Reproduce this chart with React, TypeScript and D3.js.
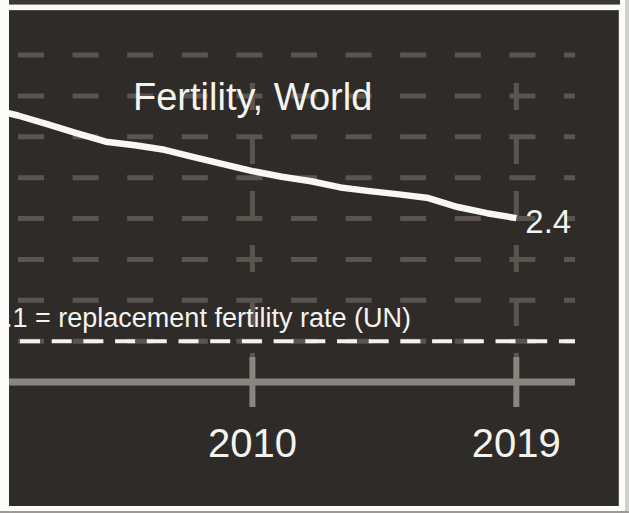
import React from "react";
import * as d3 from "d3";

const years = [2001, 2002, 2003, 2004, 2005, 2006, 2007, 2008, 2009, 2010, 2011, 2012, 2013, 2014, 2015, 2016, 2017, 2018, 2019];
const fertility = [2.67, 2.652, 2.631, 2.609, 2.588, 2.579, 2.568, 2.55, 2.533, 2.516, 2.502, 2.491, 2.476, 2.467, 2.459, 2.45, 2.428, 2.413, 2.401];
const gridValues = [2.1, 2.2, 2.3, 2.4, 2.5, 2.6, 2.7, 2.8];
const xTicks = [2010, 2019];
const replacementRate = 2.1;
const title = "Fertility, World";
const replacementLabel = "2.1 = replacement fertility rate (UN)";
const lastLabel = "2.4";

const W = 629;
const H = 513;
const panel = { x: 9, y: 10, w: 610, h: 496 };

export default function App() {
  const x = d3.scaleLinear().domain([2001.7, 2021.0]).range([9, 575]);
  const y = d3.scaleLinear().domain([2.0, 2.8]).range([382, 55]);
  const data = years.map((yr, i) => ({ yr, v: fertility[i] }));
  const line = d3
    .line<{ yr: number; v: number }>()
    .x((d) => x(d.yr))
    .y((d) => y(d.v));
  const [x0, x1] = x.range();
  const font = "'Liberation Sans', Arial, sans-serif";
  const gridColor = "#5a554f";
  const axisColor = "#8a857f";
  const textColor = "#f4f4ef";

  return (
    <svg
      width={W}
      height={H}
      style={{ position: "absolute", left: 0, top: 0, display: "block" }}
    >
      <defs>
        <clipPath id="pclip">
          <rect x={panel.x} y={panel.y} width={panel.w} height={panel.h} />
        </clipPath>
      </defs>
      <rect x={0} y={0} width={W} height={H} fill="#fbfbfa" />
      <rect x={9} y={0} width={611} height={4} fill="#3a3836" />
      <rect x={9} y={4} width={611} height={1} fill="#8e8c8a" />
      <rect x={625} y={0} width={4} height={H} fill="#cfcfcd" />
      <rect x={0} y={511} width={W} height={2} fill="#9c9b99" />
      <rect x={panel.x} y={panel.y} width={panel.w} height={panel.h} fill="#2f2b28" />
      <rect x={panel.x} y={panel.y} width={panel.w} height={1} fill="#4a4643" />
      <rect x={panel.x + panel.w - 1} y={panel.y} width={1} height={panel.h} fill="#5a5653" />

      <g clipPath="url(#pclip)">
        {gridValues.map((g) => (
          <line
            key={"h" + g}
            x1={x0}
            x2={x1}
            y1={y(g)}
            y2={y(g)}
            stroke={gridColor}
            strokeWidth={5}
            strokeDasharray="26 28.6"
            strokeDashoffset={-9}
          />
        ))}
        {xTicks.map((t) => (
          <line
            key={"v" + t}
            x1={x(t)}
            x2={x(t)}
            y1={83}
            y2={y(2.0) - 25}
            stroke={gridColor}
            strokeWidth={5}
            strokeDasharray="27 27"
          />
        ))}
        <line
          x1={x0}
          x2={x1}
          y1={y(replacementRate)}
          y2={y(replacementRate)}
          stroke="#f2f2ee"
          strokeWidth={4}
          strokeDasharray="20 11.7"
          strokeDashoffset={-11}
        />
        <line x1={x0 - 10} x2={x1} y1={y(2.0)} y2={y(2.0)} stroke={axisColor} strokeWidth={7} />
        {xTicks.map((t) => (
          <line
            key={"t" + t}
            x1={x(t)}
            x2={x(t)}
            y1={y(2.0) - 25}
            y2={y(2.0) + 25}
            stroke={axisColor}
            strokeWidth={6}
          />
        ))}
        <path
          d={line(data) || ""}
          fill="none"
          stroke="#f7f7f3"
          strokeWidth={6.5}
          strokeLinejoin="round"
        />
        <text
          x={-10}
          y={y(replacementRate) - 14}
          fill={textColor}
          fontFamily={font}
          fontSize={27}
        >
          {replacementLabel}
        </text>
      </g>

      <text x={133} y={110} fill={textColor} fontFamily={font} fontSize={38}>
        {title}
      </text>
      <text
        x={x(2019) + 9}
        y={y(2.4) + 14}
        fill={textColor}
        fontFamily={font}
        fontSize={33}
      >
        {lastLabel}
      </text>
      {xTicks.map((t) => (
        <text
          key={"l" + t}
          x={x(t)}
          y={457}
          textAnchor="middle"
          fill={textColor}
          fontFamily={font}
          fontSize={40}
        >
          {String(t)}
        </text>
      ))}
    </svg>
  );
}
